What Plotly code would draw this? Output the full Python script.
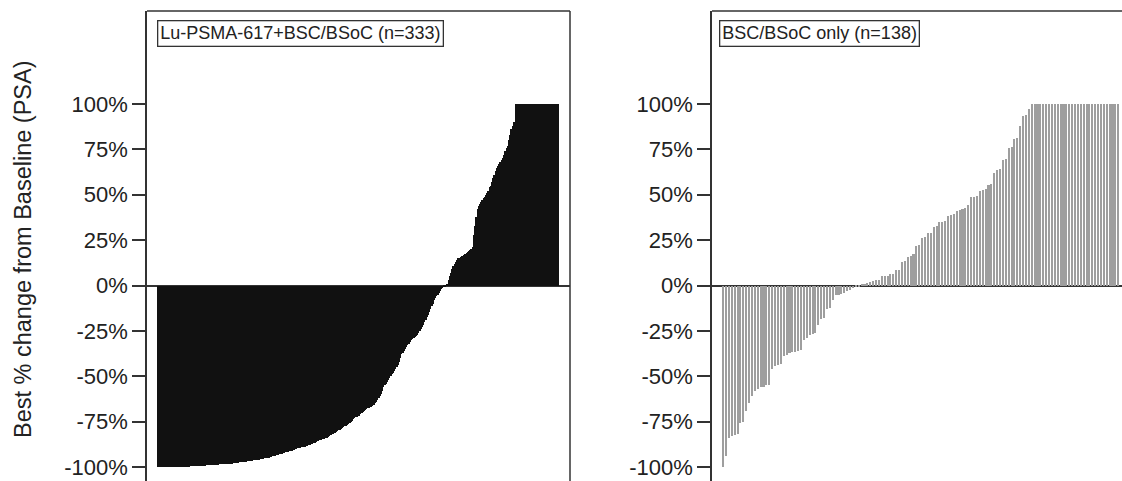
import plotly.graph_objects as go

W, H = 1122, 481

# ---------------- data ----------------
lu_labels = "Lu-PSMA-617+BSC/BSoC (n=333)"
bsc_labels = "BSC/BSoC only (n=138)"
y_title = "Best % change from Baseline (PSA)"
tick_vals = [-100, -75, -50, -25, 0, 25, 50, 75, 100]
tick_text = ["-100%", "-75%", "-50%", "-25%", "0%", "25%", "50%", "75%", "100%"]

# Lu-PSMA-617 + BSC/BSoC, best % PSA change, sorted (333 patients)
lu_values = [
    -100, -100, -100, -100, -100, -100, -100, -100, -100, -100,
    -100, -100, -100, -100, -100, -100, -100, -100, -100, -100,
    -100, -100, -100, -100, -100, -99.8, -99.8, -99.7, -99.7, -99.6,
    -99.6, -99.5, -99.5, -99.5, -99.4, -99.4, -99.3, -99.3, -99.2, -99.2,
    -99.1, -99.1, -99.0, -99.0, -98.9, -98.9, -98.8, -98.8, -98.7, -98.7,
    -98.7, -98.6, -98.6, -98.6, -98.5, -98.5, -98.5, -98.5, -98.5, -98.4,
    -98.3, -98.2, -98.1, -98.0, -97.9, -97.8, -97.7, -97.6, -97.5, -97.4,
    -97.3, -97.2, -97.1, -97.0, -96.9, -96.8, -96.7, -96.6, -96.5, -96.4,
    -96.3, -96.2, -96.1, -96.0, -95.9, -95.8, -95.7, -95.5, -95.3, -95.2,
    -95.1, -95.0, -94.8, -94.6, -94.4, -94.2, -94.0, -93.8, -93.6, -93.4,
    -93.2, -93.0, -92.8, -92.6, -92.4, -92.2, -92.0, -91.8, -91.6, -91.4,
    -91.2, -91.0, -90.7, -90.4, -90.1, -89.9, -89.7, -89.5, -89.3, -89.1,
    -89.0, -89.0, -89.0, -88.7, -88.4, -88.0, -87.7, -87.4, -87.1, -86.8,
    -86.5, -86.2, -85.9, -85.6, -85.3, -85.0, -84.8, -84.6, -84.5, -84.2,
    -83.8, -83.4, -83.0, -82.6, -82.2, -81.8, -81.4, -81.0, -80.6, -80.2,
    -79.8, -79.4, -79.0, -78.5, -78.0, -77.6, -77.2, -76.7, -76.2, -75.6,
    -75.0, -74.4, -73.8, -73.2, -72.6, -72.2, -72.0, -71.8, -71.0, -70.3,
    -69.6, -69.0, -68.5, -68.0, -67.7, -67.4, -67.0, -66.8, -66.4, -66.0,
    -65.0, -64.0, -63.0, -62.0, -61.0, -60.0, -58.0, -56.0, -55.0, -54.0,
    -53.0, -52.0, -51.0, -50.0, -49.0, -48.0, -47.0, -46.0, -45.0, -44.0,
    -42.0, -40.0, -38.0, -37.0, -36.0, -35.0, -34.0, -33.0, -32.0, -31.0,
    -30.0, -29.5, -29.0, -28.5, -28.0, -27.0, -26.0, -25.0, -24.0, -23.0,
    -22.0, -20.0, -19.0, -17.5, -16.0, -14.5, -13.0, -11.5, -10.0, -8.0,
    -7.0, -6.0, -5.0, -4.0, -3.0, -2.0, -1.5, -1.0, -0.5, -0.2,
    1, 3, 5, 7, 9, 10.5, 12, 13, 14, 15,
    15, 15.5, 16, 16.5, 17, 17.5, 18, 18.5, 19, 19.5,
    20, 21, 28, 33, 38, 42, 44, 45, 46, 47,
    48, 49, 50, 51, 52, 54, 55, 57, 59, 61,
    63, 65, 66, 67, 68, 69, 70, 72, 74, 76,
    77, 80, 83, 86, 88, 90, 90, 100, 100, 100,
    100, 100, 100, 100, 100, 100, 100, 100, 100, 100,
    100, 100, 100, 100, 100, 100, 100, 100, 100, 100,
    100, 100, 100, 100, 100, 100, 100, 100, 100, 100,
    100, 100, 100,
]

# BSC/BSoC only, best % PSA change, sorted (138 patients)
bsc_values = [
    -100, -94, -84, -83, -82.5, -82, -76, -75, -69, -65,
    -61, -58, -57, -56, -56, -55, -55, -46, -44.5, -44,
    -43, -39, -38.5, -37, -36.6, -36.5, -36, -35.5, -30, -29,
    -27, -26.5, -26, -22, -18.5, -18, -13, -12.5, -8, -5.5,
    -5.2, -4.6, -4.4, -2.8, -2.5, -1.3, -1, -0.5, 0.8, 1,
    1.2, 2, 2.5, 3, 3.2, 5, 5, 5.2, 6.5, 6.5,
    8.3, 8.5, 13, 13.5, 15.7, 16, 17.6, 22, 22.5, 26,
    26.5, 28.7, 29, 32.4, 33, 35, 35.2, 35.5, 38.5, 39,
    39.5, 41, 41.7, 42, 42.5, 44.4, 49, 49, 49.5, 52,
    52.8, 53, 55.5, 56, 62, 63.5, 64, 69, 69.5, 76,
    76.5, 80.5, 81, 88, 93.5, 94, 97, 100, 100, 100,
    100, 100, 100, 100, 100, 100, 100, 100, 100, 100,
    100, 100, 100, 100, 100, 100, 100, 100, 100, 100,
    100, 100, 100, 100, 100, 100, 100, 100,
]

lu_idx = list(range(len(lu_values)))
bsc_idx = list(range(len(bsc_values)))

# ---------------- layout geometry (pixels) ----------------
L1, R1 = 147, 570
L2, R2 = 712, 1122
TOP = 11
PX_PER_PCT = 1.815
Y0 = 285.5
y_hi = (Y0 - TOP) / PX_PER_PCT
y_lo = (Y0 - H) / PX_PER_PCT

slot1 = 402 / len(lu_values)
x1_lo = -0.5 - 10 / slot1
x1_hi = x1_lo + (R1 - L1) / slot1
slot2 = 398 / len(bsc_values)
x2_lo = -0.5 - 9.7 / slot2
x2_hi = x2_lo + (R2 - L2) / slot2

FONT = "Liberation Sans, Arial, sans-serif"
AX = "#333333"
TXT = "#222222"

fig = go.Figure()
fig.add_trace(go.Bar(x=lu_idx, y=lu_values, width=0.8,
                     marker=dict(color="#111111", line=dict(width=0)),
                     xaxis="x", yaxis="y", showlegend=False))
fig.add_trace(go.Bar(x=bsc_idx, y=bsc_values, width=0.72,
                     marker=dict(color="#9e9e9e", line=dict(width=0)),
                     xaxis="x2", yaxis="y2", showlegend=False))

yaxis_common = dict(
    range=[y_lo, y_hi], domain=[0, 1 - TOP / H],
    tickmode="array", tickvals=tick_vals, ticktext=tick_text,
    ticks="outside", ticklen=13, tickwidth=1.5, tickcolor=AX,
    showline=True, linecolor=AX, linewidth=1.5,
    showgrid=False, zeroline=True, zerolinecolor=AX, zerolinewidth=1.6,
    tickfont=dict(family=FONT, size=22, color=TXT),
    layer="above traces", automargin=False, fixedrange=True,
)
xaxis_common = dict(showline=False, showticklabels=False, ticks="",
                    showgrid=False, zeroline=False, automargin=False,
                    fixedrange=True)

fig.update_layout(
    width=W, height=H,
    margin=dict(l=0, r=0, t=0, b=0, pad=0),
    paper_bgcolor="white", plot_bgcolor="white",
    xaxis=dict(domain=[L1 / W, R1 / W], range=[x1_lo, x1_hi], **xaxis_common),
    xaxis2=dict(domain=[L2 / W, R2 / W], range=[x2_lo, x2_hi], anchor="y2",
                **xaxis_common),
    yaxis=dict(anchor="x", **yaxis_common),
    yaxis2=dict(anchor="x2", **yaxis_common),
    bargap=0,
)

# frame lines (top and right for left panel, top for right panel)
fig.add_shape(type="line", xref="x domain", yref="y domain",
              x0=0, x1=1, y0=1, y1=1, line=dict(color=AX, width=1.5))
fig.add_shape(type="line", xref="x domain", yref="y domain",
              x0=1, x1=1, y0=0, y1=1, line=dict(color=AX, width=1.5))
fig.add_shape(type="line", xref="x2 domain", yref="y2 domain",
              x0=0, x1=1, y0=1, y1=1, line=dict(color=AX, width=1.5))

# panel labels
for txt, xpx in [(lu_labels, 157), (bsc_labels, 719)]:
    fig.add_annotation(
        text=txt, xref="paper", yref="paper", x=xpx / W, y=1 - 19.5 / H,
        xanchor="left", yanchor="top", showarrow=False,
        font=dict(family=FONT, size=18, color=TXT),
        bordercolor=AX, borderwidth=1.3, borderpad=2, bgcolor="white",
    )

# y-axis title
fig.add_annotation(
    text=y_title, xref="paper", yref="paper", x=23 / W, y=1 - 250 / H,
    xanchor="center", yanchor="middle", textangle=-90, showarrow=False,
    font=dict(family=FONT, size=23.5, color=TXT),
)

fig.write_html("out.html")
